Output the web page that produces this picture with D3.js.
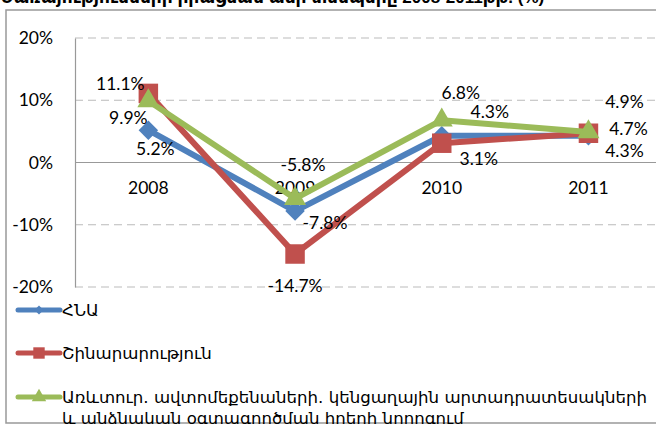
<!DOCTYPE html>
<html>
<head>
<meta charset="utf-8">
<script src="https://cdn.jsdelivr.net/npm/d3@7"></script>
<style>
  body { margin: 0; background: #fff; }
  svg { display: block; }
</style>
</head>
<body>
<div id="chart"></div>
<script>
const years = ["2008", "2009", "2010", "2011"];
const seriesNames = [
  "ՀՆԱ",
  "Շինարարություն",
  "Առևտուր. ավտոմեքենաների. կենցաղային արտադրատեսակների|և անձնական օգտագործման իրերի նորոգում"
];
const gdp = [5.2, -7.8, 4.3, 4.3];
const construction = [11.1, -14.7, 3.1, 4.7];
const trade = [9.9, -5.8, 6.8, 4.9];
const yTicks = [20, 10, 0, -10, -20];
const title = "Ծառայությունների իրացման աճի տեմպերը 2008-2011թթ. (%)";

// label offsets (dx, dy from point) per series, per year
const labelOffsets = [
  [[7, 18], [30, 11], [48, -24], [36, 15]],
  [[-28, -10], [0, 31], [37, 15], [40, -5]],
  [[-20, 17], [8, -34], [19, -28], [36, -30]]
];

const width = 656, height = 424;
const svg = d3.select("#chart").append("svg")
  .attr("width", width)
  .attr("height", height);

const font = "Lato, 'DejaVu Sans', sans-serif";
const armFont = "'DejaVu Sans', sans-serif";
const fontSize = 17.5;

// title (cut off at the top)
svg.append("text")
  .attr("x", 0)
  .attr("y", 3)
  .attr("font-family", "'Liberation Sans', 'DejaVu Sans', sans-serif")
  .attr("font-weight", "bold")
  .attr("font-size", 17)
  .text(title);

// frame
svg.append("rect")
  .attr("x", 6)
  .attr("y", 10)
  .attr("width", 660)
  .attr("height", 413)
  .attr("fill", "#fff")
  .attr("stroke", "#999")
  .attr("stroke-width", 1.5);

const x = d3.scaleBand().domain(years).range([75, 75 + 4 * 146.7]);
const y = d3.scaleLinear().domain([-20, 20]).range([287, 38]);

// gridlines
svg.append("g")
  .selectAll("line")
  .data(yTicks.filter(d => d !== 0))
  .enter()
  .append("line")
    .attr("x1", 75)
    .attr("x2", width)
    .attr("y1", d => y(d))
    .attr("y2", d => y(d))
    .attr("stroke", "#bbb")
    .attr("stroke-width", 1.2)
    .attr("stroke-dasharray", "8,5");

// y axis
const yAxis = d3.axisLeft(y)
  .tickValues(yTicks)
  .tickFormat(d => d + "%")
  .tickSize(0)
  .tickPadding(22);

const yg = svg.append("g")
  .attr("transform", "translate(75,0)")
  .call(yAxis);
yg.select(".domain").attr("stroke", "#999").attr("stroke-width", 1.2);
yg.selectAll("text")
  .attr("font-family", font)
  .attr("font-size", fontSize)
  .attr("fill", "#000");

// zero line
svg.append("line")
  .attr("x1", 75)
  .attr("x2", width)
  .attr("y1", y(0))
  .attr("y2", y(0))
  .attr("stroke", "#999")
  .attr("stroke-width", 1.2);

// category axis labels
const xAxis = d3.axisBottom(x).tickSize(0).tickPadding(19);
const xg = svg.append("g")
  .attr("transform", "translate(0," + y(0) + ")")
  .call(xAxis);
xg.select(".domain").remove();
xg.selectAll("text")
  .attr("font-family", font)
  .attr("font-size", fontSize)
  .attr("fill", "#000");

const colors = ["#4F81BD", "#C0504D", "#9BBB59"];
const allSeries = [gdp, construction, trade];
const markerTypes = [d3.symbolSquare, d3.symbolSquare, d3.symbolTriangle];
const markerRotate = [45, 0, 0];
const markerSizes = [190, 380, 210];

const line = d3.line()
  .x((d, i) => x(years[i]) + x.bandwidth() / 2)
  .y(d => y(d));

allSeries.forEach((vals, s) => {
  svg.append("path")
    .datum(vals)
    .attr("fill", "none")
    .attr("stroke", colors[s])
    .attr("stroke-width", 6)
    .attr("stroke-linejoin", "round")
    .attr("d", line);

  svg.append("g")
    .selectAll("path")
    .data(vals)
    .enter()
    .append("path")
      .attr("d", d3.symbol().type(markerTypes[s]).size(markerSizes[s]))
      .attr("transform", (d, i) => "translate(" + (x(years[i]) + x.bandwidth() / 2) + "," + y(d) + ") rotate(" + markerRotate[s] + ")")
      .attr("fill", colors[s]);
});

// data labels
allSeries.forEach((vals, s) => {
  svg.append("g")
    .selectAll("text")
    .data(vals)
    .enter()
    .append("text")
      .attr("x", (d, i) => x(years[i]) + x.bandwidth() / 2 + labelOffsets[s][i][0])
      .attr("y", (d, i) => y(d) + labelOffsets[s][i][1])
      .attr("text-anchor", "middle")
      .attr("dominant-baseline", "central")
      .attr("font-family", font)
      .attr("font-size", fontSize)
      .attr("fill", "#000")
      .text(d => d.toFixed(1) + "%");
});

// legend
const legendY = [310, 353, 397];
const legendSizes = [40, 130, 90];
seriesNames.forEach((name, s) => {
  const g = svg.append("g").attr("transform", "translate(0," + legendY[s] + ")");
  g.append("line")
    .attr("x1", 18)
    .attr("x2", 60)
    .attr("stroke", colors[s])
    .attr("stroke-width", 5)
    .attr("stroke-linecap", "round");
  g.append("path")
    .attr("d", d3.symbol().type(markerTypes[s]).size(legendSizes[s]))
    .attr("transform", "translate(39,0) rotate(" + markerRotate[s] + ")")
    .attr("fill", colors[s]);
  const t = g.append("text")
    .attr("x", 62)
    .attr("y", 0)
    .attr("dominant-baseline", "central")
    .attr("font-family", armFont)
    .attr("font-size", 16.6)
    .attr("fill", "#000");
  name.split("|").forEach((part, k) => {
    t.append("tspan")
      .attr("x", 62)
      .attr("dy", k === 0 ? 0 : 21)
      .text(part);
  });
});
</script>
</body>
</html>
